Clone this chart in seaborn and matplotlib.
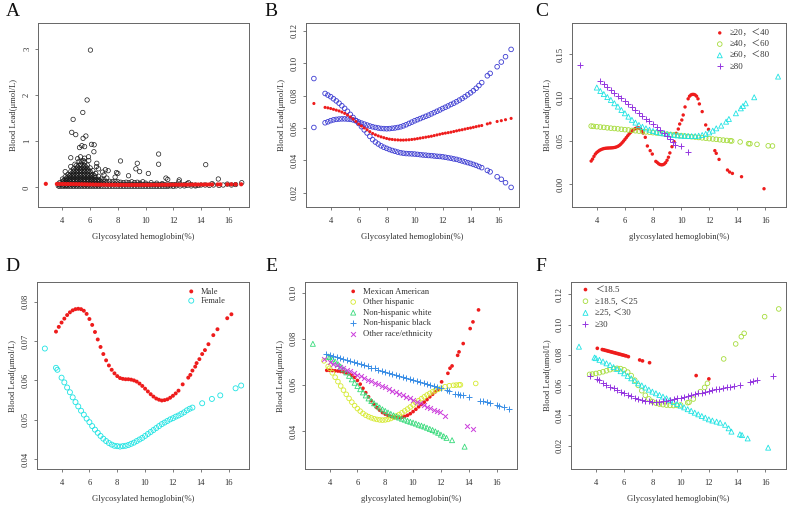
"""
Blood lead vs glycosylated hemoglobin - six panel smooth curve figure
"""

import numpy as np
import pandas as pd
import matplotlib
matplotlib.use('Agg')
import matplotlib.pyplot as plt
import seaborn as sns
import warnings
warnings.filterwarnings('ignore')

sns.set_style('ticks')
plt.rcParams['font.family'] = ['Liberation Serif', 'Noto Sans CJK SC', 'DejaVu Sans']

# ==================================================================================
# DATA
# ==================================================================================

# Panel A - raw scatter (dense core, band above HbA1c 8, outliers)
a_core = [
    (3.7, 0.03), (3.7, 0.07),
    (3.8, 0.02), (3.8, 0.06), (3.8, 0.10),
    (4.0, 0.02), (4.0, 0.07), (4.0, 0.12), (4.0, 0.18),
    (4.1, 0.04), (4.1, 0.10), (4.1, 0.15),
    (4.2, 0.02), (4.2, 0.07), (4.2, 0.12), (4.2, 0.17), (4.2, 0.23),
    (4.3, 0.04), (4.3, 0.10), (4.3, 0.15), (4.3, 0.20),
    (4.4, 0.02), (4.4, 0.07), (4.4, 0.12), (4.4, 0.17), (4.4, 0.22), (4.4, 0.28),
    (4.5, 0.05), (4.5, 0.15), (4.5, 0.25),
    (4.6, 0.02), (4.6, 0.07), (4.6, 0.12), (4.6, 0.17), (4.6, 0.22), (4.6, 0.28), (4.6, 0.34), (4.6, 0.45),
    (4.7, 0.05), (4.7, 0.15), (4.7, 0.25), (4.7, 0.31),
    (4.8, 0.02), (4.8, 0.07), (4.8, 0.12), (4.8, 0.17), (4.8, 0.22), (4.8, 0.28), (4.8, 0.34), (4.8, 0.40),
    (4.9, 0.05), (4.9, 0.15), (4.9, 0.25), (4.9, 0.37),
    (5.0, 0.02), (5.0, 0.07), (5.0, 0.12), (5.0, 0.17), (5.0, 0.22), (5.0, 0.28), (5.0, 0.34), (5.0, 0.40), (5.0, 0.47),
    (5.1, 0.05), (5.1, 0.15), (5.1, 0.25), (5.1, 0.37), (5.1, 0.44),
    (5.2, 0.02), (5.2, 0.07), (5.2, 0.12), (5.2, 0.17), (5.2, 0.22), (5.2, 0.28), (5.2, 0.34), (5.2, 0.40), (5.2, 0.47), (5.2, 0.56),
    (5.3, 0.05), (5.3, 0.15), (5.3, 0.25), (5.3, 0.37), (5.3, 0.50),
    (5.4, 0.02), (5.4, 0.07), (5.4, 0.12), (5.4, 0.17), (5.4, 0.22), (5.4, 0.28), (5.4, 0.34), (5.4, 0.40), (5.4, 0.47), (5.4, 0.55),
    (5.5, 0.05), (5.5, 0.15), (5.5, 0.25), (5.5, 0.37), (5.5, 0.44), (5.5, 0.58),
    (5.6, 0.02), (5.6, 0.07), (5.6, 0.12), (5.6, 0.17), (5.6, 0.22), (5.6, 0.28), (5.6, 0.34), (5.6, 0.40), (5.6, 0.47), (5.6, 0.55), (5.6, 0.63),
    (5.7, 0.05), (5.7, 0.15), (5.7, 0.25), (5.7, 0.37), (5.7, 0.44),
    (5.8, 0.02), (5.8, 0.07), (5.8, 0.12), (5.8, 0.17), (5.8, 0.22), (5.8, 0.28), (5.8, 0.34), (5.8, 0.40), (5.8, 0.48),
    (5.9, 0.05), (5.9, 0.15), (5.9, 0.25), (5.9, 0.37),
    (6.0, 0.02), (6.0, 0.07), (6.0, 0.12), (6.0, 0.17), (6.0, 0.22), (6.0, 0.28), (6.0, 0.34), (6.0, 0.42),
    (6.1, 0.05), (6.1, 0.15), (6.1, 0.25),
    (6.2, 0.02), (6.2, 0.07), (6.2, 0.12), (6.2, 0.17), (6.2, 0.22), (6.2, 0.28), (6.2, 0.36),
    (6.3, 0.05), (6.3, 0.15), (6.3, 0.25),
    (6.4, 0.02), (6.4, 0.07), (6.4, 0.12), (6.4, 0.17), (6.4, 0.22), (6.4, 0.30),
    (6.5, 0.05), (6.5, 0.15),
    (6.6, 0.02), (6.6, 0.07), (6.6, 0.12), (6.6, 0.17), (6.6, 0.24),
    (6.7, 0.05), (6.7, 0.14),
    (6.8, 0.02), (6.8, 0.07), (6.8, 0.12), (6.8, 0.18),
    (7.0, 0.02), (7.0, 0.07), (7.0, 0.12), (7.0, 0.17), (7.0, 0.27),
    (7.2, 0.02), (7.2, 0.07), (7.2, 0.12), (7.2, 0.20),
    (7.4, 0.02), (7.4, 0.07), (7.4, 0.13),
    (7.6, 0.02), (7.6, 0.07), (7.6, 0.12),
    (7.8, 0.02), (7.8, 0.07), (7.8, 0.13), (7.8, 0.22),
    (8.0, 0.02), (8.0, 0.07), (8.0, 0.12),
]
a_band = [
    (8.2, 0.02), (8.2, 0.06), (8.2, 0.11), (8.4, 0.02), (8.4, 0.06), (8.4, 0.10),
    (8.6, 0.02), (8.6, 0.06), (8.6, 0.11), (8.8, 0.02), (8.8, 0.06), (8.8, 0.10),
    (9.0, 0.02), (9.0, 0.06), (9.0, 0.12), (9.2, 0.02), (9.2, 0.06), (9.2, 0.10),
    (9.4, 0.02), (9.4, 0.06), (9.4, 0.11), (9.6, 0.02), (9.6, 0.06), (9.6, 0.09),
    (9.8, 0.02), (9.8, 0.06), (9.8, 0.12), (10.0, 0.02), (10.0, 0.06), (10.0, 0.09),
    (10.2, 0.02), (10.2, 0.06), (10.4, 0.02), (10.4, 0.06), (10.4, 0.10),
    (10.6, 0.02), (10.6, 0.06), (10.8, 0.02), (10.8, 0.06), (10.8, 0.09),
    (11.0, 0.02), (11.0, 0.06), (11.2, 0.02), (11.2, 0.06), (11.2, 0.08),
    (11.4, 0.02), (11.4, 0.06), (11.6, 0.02), (11.6, 0.05), (11.8, 0.03), (11.8, 0.06),
    (12.0, 0.02), (12.0, 0.06), (12.2, 0.03), (12.2, 0.06), (12.5, 0.03), (12.5, 0.07),
    (12.8, 0.03), (12.8, 0.06), (13.0, 0.04), (13.0, 0.08), (13.3, 0.03), (13.3, 0.06),
    (13.6, 0.03), (13.6, 0.05), (13.8, 0.04), (14.0, 0.05), (14.3, 0.05), (14.6, 0.04),
    (14.9, 0.05), (15.3, 0.04), (15.6, 0.05), (16.2, 0.05), (16.5, 0.06),
]
a_outliers = [
    (6.02, 2.97), (5.78, 1.89), (5.47, 1.62), (4.77, 1.47), (4.67, 1.19), (4.96, 1.14),
    (5.69, 1.11), (5.49, 1.06), (5.40, 0.90), (5.23, 0.86), (6.10, 0.93), (6.29, 0.92),
    (6.27, 0.77), (5.88, 0.66), (4.60, 0.64), (5.60, 0.88), (8.19, 0.57), (10.94, 0.72),
    (10.94, 0.50), (9.40, 0.52), (9.30, 0.40), (9.57, 0.34), (10.20, 0.30), (14.34, 0.49),
    (15.25, 0.18), (12.43, 0.16), (11.47, 0.20), (8.77, 0.25), (16.94, 0.10), (6.48, 0.52),
    (6.46, 0.45), (4.20, 0.34), (7.30, 0.36), (7.90, 0.32), (8.00, 0.30), (7.10, 0.38),
    (6.90, 0.33), (5.10, 0.62), (5.30, 0.66), (5.90, 0.58), (4.90, 0.50), (6.60, 0.40),
    (11.60, 0.17), (13.10, 0.10), (12.40, 0.12), (14.80, 0.08), (15.90, 0.07),
]

# Panel B - fitted curve and its two bands (same HbA1c values)
b_x = [2.8, 3.6, 3.8, 4.0, 4.2, 4.4, 4.6, 4.8, 5.0, 5.2, 5.4, 5.6, 5.8, 6.0, 6.2, 6.4, 6.6,
       6.8, 7.0, 7.2, 7.4, 7.6, 7.8, 8.0, 8.2, 8.4, 8.6, 8.8, 9.0, 9.2, 9.4, 9.6, 9.8, 10.0,
       10.2, 10.4, 10.6, 10.8, 11.0, 11.2, 11.4, 11.6, 11.8, 12.0, 12.2, 12.4, 12.6, 12.8,
       13.0, 13.2, 13.4, 13.6, 13.8, 14.0, 14.2, 14.4, 14.6, 14.8, 15.2, 15.4, 15.9, 16.2,
       16.5, 16.9]
b_fit = [0.0751, 0.0727, 0.0724, 0.0720, 0.0715, 0.0710, 0.0705, 0.0698, 0.0690, 0.0680,
         0.0668, 0.0655, 0.0640, 0.0624, 0.0612, 0.0600, 0.0589, 0.0577, 0.0566, 0.0558,
         0.0551, 0.0545, 0.0540, 0.0535, 0.0531, 0.0529, 0.0527, 0.0526, 0.0525, 0.0525,
         0.0526, 0.0527, 0.0529, 0.0531, 0.0534, 0.0537, 0.0540, 0.0543, 0.0546, 0.0549,
         0.0553, 0.0557, 0.0561, 0.0565, 0.0568, 0.0571, 0.0574, 0.0578, 0.0582, 0.0586,
         0.0589, 0.0593, 0.0597, 0.0600, 0.0604, 0.0608, 0.0612, 0.0615, 0.0625, 0.0630,
         0.0640, 0.0645, 0.0651, 0.0659]
b_band1 = [0.0905, 0.0813, 0.0803, 0.0793, 0.0780, 0.0767, 0.0753, 0.0737, 0.0721, 0.0703,
           0.0684, 0.0665, 0.0646, 0.0628, 0.0608, 0.0588, 0.0569, 0.0548, 0.0528, 0.0513,
           0.0501, 0.0490, 0.0481, 0.0474, 0.0467, 0.0461, 0.0456, 0.0451, 0.0447, 0.0444,
           0.0442, 0.0441, 0.0440, 0.0439, 0.0437, 0.0435, 0.0433, 0.0432, 0.0430, 0.0429,
           0.0427, 0.0425, 0.0424, 0.0422, 0.0419, 0.0416, 0.0413, 0.0409, 0.0406, 0.0401,
           0.0396, 0.0391, 0.0386, 0.0381, 0.0375, 0.0369, 0.0362, 0.0355, 0.0338, 0.0329,
           0.0299, 0.0283, 0.0262, 0.0233]
b_band2 = [0.0603, 0.0632, 0.0638, 0.0645, 0.0650, 0.0653, 0.0655, 0.0656, 0.0656, 0.0655,
           0.0653, 0.0650, 0.0644, 0.0637, 0.0630, 0.0624, 0.0618, 0.0612, 0.0607, 0.0603,
           0.0600, 0.0597, 0.0596, 0.0595, 0.0596, 0.0598, 0.0600, 0.0603, 0.0607, 0.0613,
           0.0620, 0.0628, 0.0636, 0.0644, 0.0651, 0.0658, 0.0665, 0.0672, 0.0679, 0.0687,
           0.0695, 0.0703, 0.0711, 0.0720, 0.0728, 0.0736, 0.0745, 0.0753, 0.0762, 0.0772,
           0.0782, 0.0793, 0.0805, 0.0817, 0.0830, 0.0845, 0.0862, 0.0880, 0.0922, 0.0937,
           0.0978, 0.1007, 0.1040, 0.1085]

# Panel C - age groups
c_labels = ['≥20，＜40', '≥40，＜60', '≥60，＜80', '≥80']
c1_x = [3.6, 3.7, 3.8, 3.9, 4.0, 4.1, 4.2, 4.3, 4.4, 4.5, 4.6, 4.7, 4.8, 4.9, 5.0, 5.1, 5.2,
        5.3, 5.4, 5.5, 5.6, 5.7, 5.8, 5.9, 6.0, 6.1, 6.2, 6.3, 6.4, 6.5, 6.6, 6.7, 6.8, 6.9,
        7.0, 7.1, 7.2, 7.3, 7.45, 7.6, 7.8, 7.95, 8.2, 8.3, 8.4, 8.5, 8.6, 8.7, 8.8, 8.9, 9.0,
        9.1, 9.2, 9.35, 9.5, 9.65, 9.8, 9.9, 10.05, 10.15, 10.28, 10.5, 10.6, 10.7, 10.8, 10.9,
        11.0, 11.1, 11.2, 11.3, 11.5, 11.75, 11.95, 12.4, 12.5, 12.7, 13.3, 13.45, 13.65, 14.3,
        15.9]
c1_y = [0.0266, 0.0289, 0.0320, 0.0347, 0.0365, 0.0378, 0.0390, 0.0398, 0.0405, 0.0410,
        0.0413, 0.0415, 0.0416, 0.0417, 0.0418, 0.0419, 0.0421, 0.0424, 0.0429, 0.0436,
        0.0446, 0.0460, 0.0477, 0.0496, 0.0516, 0.0537, 0.0558, 0.0578, 0.0596, 0.0612,
        0.0626, 0.0637, 0.0645, 0.0650, 0.0648, 0.0638, 0.0618, 0.0590, 0.0540, 0.0440,
        0.0386, 0.0347, 0.0262, 0.0250, 0.0235, 0.0226, 0.0222, 0.0224, 0.0232, 0.0248,
        0.0275, 0.0310, 0.0360, 0.0432, 0.0490, 0.0586, 0.0636, 0.0694, 0.0740, 0.0798,
        0.0891, 0.0985, 0.1015, 0.1030, 0.1036, 0.1036, 0.1030, 0.1015, 0.0985, 0.0926,
        0.0837, 0.0683, 0.0632, 0.0386, 0.0355, 0.0285, 0.0162, 0.0139, 0.0123, 0.0085,
        -0.0054]
c2_x = [3.6, 3.75, 4.0, 4.25, 4.5, 4.75, 5.0, 5.25, 5.5, 5.75, 6.0, 6.25, 6.5, 6.75, 7.0,
        7.25, 7.5, 7.75, 8.0, 8.25, 8.5, 8.75, 9.0, 9.25, 9.5, 9.75, 10.0, 10.25, 10.5, 10.75,
        11.0, 11.25, 11.5, 11.75, 12.0, 12.25, 12.5, 12.75, 13.0, 13.25, 13.5, 13.6, 14.2,
        14.8, 14.9, 15.4, 16.2, 16.5]
c2_y = [0.0670, 0.0667, 0.0663, 0.0659, 0.0655, 0.0650, 0.0646, 0.0642, 0.0638, 0.0633,
        0.0629, 0.0625, 0.0620, 0.0616, 0.0612, 0.0607, 0.0603, 0.0599, 0.0594, 0.0590,
        0.0586, 0.0582, 0.0577, 0.0573, 0.0569, 0.0564, 0.0560, 0.0556, 0.0551, 0.0547,
        0.0543, 0.0538, 0.0534, 0.0530, 0.0525, 0.0521, 0.0517, 0.0512, 0.0508, 0.0504,
        0.0500, 0.0498, 0.0487, 0.0467, 0.0466, 0.0459, 0.0442, 0.0440]
c3_x = [4.0, 4.25, 4.5, 4.75, 5.0, 5.25, 5.5, 5.75, 6.0, 6.25, 6.5, 6.75, 7.0, 7.25, 7.5,
        7.75, 8.0, 8.25, 8.5, 8.75, 9.0, 9.25, 9.5, 9.75, 10.0, 10.25, 10.5, 10.75, 11.0,
        11.25, 11.5, 11.75, 12.0, 12.25, 12.5, 12.85, 13.2, 13.4, 13.9, 14.25, 14.4, 14.6,
        15.2, 16.9]
c3_y = [0.1115, 0.1075, 0.1040, 0.1005, 0.0972, 0.0934, 0.0895, 0.0856, 0.0818, 0.0779,
        0.0742, 0.0710, 0.0683, 0.0662, 0.0644, 0.0628, 0.0614, 0.0603, 0.0594, 0.0586,
        0.0578, 0.0572, 0.0567, 0.0562, 0.0559, 0.0557, 0.0555, 0.0554, 0.0555, 0.0559,
        0.0567, 0.0580, 0.0597, 0.0617, 0.0644, 0.0675, 0.0721, 0.0752, 0.0818, 0.0875,
        0.0902, 0.0933, 0.1003, 0.1242]
c4_x = [2.8, 4.25, 4.5, 4.75, 5.0, 5.25, 5.5, 5.75, 6.0, 6.25, 6.5, 6.75, 7.0, 7.25, 7.5,
        7.75, 8.0, 8.25, 8.5, 8.75, 9.0, 9.2, 9.4, 9.55, 10.0, 10.5]
c4_y = [0.1377, 0.1190, 0.1157, 0.1124, 0.1090, 0.1057, 0.1023, 0.0990, 0.0956, 0.0923,
        0.0890, 0.0857, 0.0823, 0.0790, 0.0757, 0.0724, 0.0691, 0.0658, 0.0625, 0.0592,
        0.0555, 0.0525, 0.0490, 0.0455, 0.0440, 0.0366]

# Panel D - sex
d_male_x = [3.6, 3.8, 4.0, 4.2, 4.4, 4.6, 4.8, 5.0, 5.2, 5.4, 5.6, 5.8, 6.0, 6.2, 6.4, 6.6,
            6.8, 7.0, 7.2, 7.4, 7.6, 7.8, 8.0, 8.2, 8.4, 8.6, 8.8, 9.0, 9.2, 9.4, 9.6, 9.8,
            10.0, 10.2, 10.4, 10.6, 10.8, 11.0, 11.2, 11.4, 11.6, 11.8, 12.0, 12.2, 12.4,
            12.7, 13.1, 13.25, 13.4, 13.6, 13.7, 13.9, 14.1, 14.3, 14.55, 14.9, 15.2, 15.9,
            16.2]
d_male_y = [0.0724, 0.0736, 0.0747, 0.0757, 0.0766, 0.0773, 0.0778, 0.0781, 0.0782, 0.0781,
            0.0777, 0.0769, 0.0756, 0.0741, 0.0723, 0.0704, 0.0685, 0.0667, 0.0651, 0.0638,
            0.0627, 0.0618, 0.0611, 0.0606, 0.0604, 0.0603, 0.0603, 0.0602, 0.0600, 0.0597,
            0.0592, 0.0586, 0.0579, 0.0572, 0.0565, 0.0559, 0.0554, 0.0551, 0.0549, 0.0550,
            0.0552, 0.0556, 0.0561, 0.0567, 0.0574, 0.0590, 0.0607, 0.0614, 0.0625, 0.0635,
            0.0644, 0.0654, 0.0667, 0.0677, 0.0692, 0.0715, 0.0730, 0.0758, 0.0768]
d_female_x = [2.8, 3.6, 3.7, 4.0, 4.2, 4.4, 4.6, 4.8, 5.0, 5.2, 5.4, 5.6, 5.8, 6.0, 6.2, 6.4,
              6.6, 6.8, 7.0, 7.2, 7.4, 7.6, 7.8, 8.0, 8.2, 8.4, 8.6, 8.8, 9.0, 9.2, 9.4, 9.6,
              9.8, 10.0, 10.2, 10.4, 10.6, 10.8, 11.0, 11.2, 11.4, 11.6, 11.8, 12.0, 12.2,
              12.4, 12.6, 12.8, 13.0, 13.2, 13.4, 14.1, 14.8, 15.4, 16.5, 16.9]
d_female_y = [0.0681, 0.0632, 0.0627, 0.0607, 0.0595, 0.0582, 0.0570, 0.0557, 0.0545, 0.0534,
              0.0523, 0.0513, 0.0503, 0.0494, 0.0484, 0.0475, 0.0467, 0.0459, 0.0452, 0.0446,
              0.0441, 0.0437, 0.0434, 0.0433, 0.0432, 0.0433, 0.0434, 0.0436, 0.0439, 0.0442,
              0.0446, 0.0450, 0.0454, 0.0459, 0.0464, 0.0469, 0.0474, 0.0479, 0.0484, 0.0489,
              0.0493, 0.0497, 0.0501, 0.0504, 0.0508, 0.0511, 0.0515, 0.0519, 0.0524, 0.0528,
              0.0531, 0.0542, 0.0553, 0.0562, 0.0580, 0.0587]

# Panel E - race/ethnicity
e_labels = ['Mexican American', 'Other hispanic', 'Non-hispanic white',
            'Non-hispanic black', 'Other race/ethnicity']
e1_x = [3.8, 4.0, 4.2, 4.4, 4.6, 4.8, 5.0, 5.2, 5.4, 5.6, 5.8, 6.0, 6.2, 6.4, 6.6, 6.8, 7.0,
        7.2, 7.4, 7.6, 7.8, 8.0, 8.2, 8.4, 8.6, 8.8, 9.0, 9.2, 9.4, 9.6, 9.8, 10.0, 10.2, 10.4,
        10.6, 10.8, 11.0, 11.2, 11.4, 11.6, 11.8, 12.05, 12.5, 12.65, 12.8, 13.2, 13.3, 13.6,
        14.1, 14.3, 14.7]
e1_y = [0.0663, 0.0663, 0.0662, 0.0661, 0.0660, 0.0658, 0.0656, 0.0652, 0.0648, 0.0641,
        0.0632, 0.0619, 0.0603, 0.0585, 0.0566, 0.0548, 0.0531, 0.0515, 0.0501, 0.0490,
        0.0480, 0.0473, 0.0467, 0.0463, 0.0460, 0.0458, 0.0458, 0.0460, 0.0463, 0.0468,
        0.0475, 0.0484, 0.0494, 0.0505, 0.0515, 0.0525, 0.0536, 0.0548, 0.0559, 0.0570,
        0.0580, 0.0613, 0.0650, 0.0672, 0.0682, 0.0728, 0.0743, 0.0779, 0.0844, 0.0873,
        0.0925]
e2_x = [3.6, 3.9, 4.0, 4.2, 4.4, 4.6, 4.8, 5.0, 5.2, 5.4, 5.6, 5.8, 6.0, 6.2, 6.4, 6.6, 6.8,
        7.0, 7.2, 7.4, 7.6, 7.8, 8.0, 8.2, 8.4, 8.6, 8.8, 9.0, 9.2, 9.4, 9.6, 9.8, 10.0, 10.2,
        10.4, 10.6, 10.8, 11.0, 11.2, 11.4, 11.6, 11.8, 12.0, 12.3, 12.6, 12.9, 13.1, 13.3,
        13.4, 14.5]
e2_y = [0.0704, 0.0680, 0.0672, 0.0652, 0.0633, 0.0614, 0.0595, 0.0577, 0.0559, 0.0541,
        0.0525, 0.0510, 0.0497, 0.0486, 0.0476, 0.0468, 0.0462, 0.0457, 0.0453, 0.0450,
        0.0448, 0.0447, 0.0448, 0.0450, 0.0454, 0.0459, 0.0465, 0.0471, 0.0479, 0.0487,
        0.0495, 0.0504, 0.0513, 0.0522, 0.0531, 0.0540, 0.0548, 0.0556, 0.0563, 0.0570,
        0.0576, 0.0581, 0.0585, 0.0592, 0.0596, 0.0598, 0.0599, 0.0600, 0.0600, 0.0606]
e3_x = [2.8, 3.9, 4.0, 4.2, 4.4, 4.6, 4.8, 5.0, 5.2, 5.4, 5.6, 5.8, 6.0, 6.2, 6.4, 6.6, 6.8,
        7.0, 7.2, 7.4, 7.6, 7.8, 8.0, 8.2, 8.4, 8.6, 8.8, 9.0, 9.2, 9.4, 9.6, 9.8, 10.0, 10.2,
        10.4, 10.6, 10.8, 11.0, 11.2, 11.4, 11.6, 11.8, 12.0, 12.2, 12.4, 12.8, 13.7]
e3_y = [0.0778, 0.0723, 0.0720, 0.0711, 0.0701, 0.0690, 0.0679, 0.0667, 0.0654, 0.0639,
        0.0624, 0.0609, 0.0595, 0.0581, 0.0567, 0.0554, 0.0541, 0.0530, 0.0520, 0.0511,
        0.0502, 0.0494, 0.0487, 0.0480, 0.0474, 0.0468, 0.0463, 0.0458, 0.0453, 0.0449,
        0.0444, 0.0440, 0.0436, 0.0432, 0.0427, 0.0423, 0.0419, 0.0414, 0.0409, 0.0404,
        0.0398, 0.0392, 0.0384, 0.0377, 0.0370, 0.0360, 0.0332]
e4_x = [3.75, 4.0, 4.25, 4.5, 4.75, 5.0, 5.25, 5.5, 5.75, 6.0, 6.25, 6.5, 6.75, 7.0, 7.25,
        7.5, 7.75, 8.0, 8.25, 8.5, 8.75, 9.0, 9.25, 9.5, 9.75, 10.0, 10.25, 10.5, 10.75, 11.0,
        11.25, 11.5, 11.75, 12.0, 12.4, 12.6, 13.0, 13.2, 13.4, 13.6, 14.0, 14.8, 15.0, 15.3,
        15.5, 16.0, 16.2, 16.5, 16.9]
e4_y = [0.0734, 0.0729, 0.0725, 0.0720, 0.0716, 0.0711, 0.0707, 0.0702, 0.0698, 0.0693,
        0.0689, 0.0684, 0.0680, 0.0675, 0.0671, 0.0666, 0.0662, 0.0657, 0.0653, 0.0648,
        0.0644, 0.0639, 0.0635, 0.0630, 0.0626, 0.0621, 0.0617, 0.0612, 0.0608, 0.0603,
        0.0599, 0.0594, 0.0590, 0.0585, 0.0576, 0.0572, 0.0562, 0.0560, 0.0557, 0.0554,
        0.0546, 0.0532, 0.0530, 0.0524, 0.0521, 0.0512, 0.0508, 0.0502, 0.0494]
e5_x = [3.6, 4.0, 4.25, 4.5, 4.75, 5.0, 5.25, 5.5, 5.75, 6.0, 6.25, 6.5, 6.75, 7.0, 7.25,
        7.5, 7.75, 8.0, 8.25, 8.5, 8.75, 9.0, 9.25, 9.5, 9.75, 10.0, 10.25, 10.5, 10.75, 11.0,
        11.25, 11.5, 11.75, 11.9, 12.3, 13.9, 14.3]
e5_y = [0.0711, 0.0699, 0.0692, 0.0685, 0.0678, 0.0671, 0.0664, 0.0658, 0.0651, 0.0644,
        0.0637, 0.0630, 0.0623, 0.0616, 0.0609, 0.0603, 0.0596, 0.0589, 0.0582, 0.0575,
        0.0568, 0.0561, 0.0554, 0.0548, 0.0541, 0.0534, 0.0527, 0.0520, 0.0513, 0.0506,
        0.0499, 0.0493, 0.0486, 0.0482, 0.0465, 0.0422, 0.0407]

# Panel F - BMI groups
f_labels = ['＜18.5', '≥18.5, ＜25', '≥25, ＜30', '≥30']
f1_x = [4.1, 4.45, 4.55, 4.65, 4.75, 4.85, 4.95, 5.05, 5.15, 5.25, 5.35, 5.45, 5.55, 5.65,
        5.75, 5.85, 5.95, 6.05, 6.15, 6.3, 7.1, 7.3, 7.8, 11.1, 12.0]
f1_y = [0.0843, 0.0835, 0.0833, 0.0830, 0.0828, 0.0825, 0.0823, 0.0820, 0.0818, 0.0815,
        0.0813, 0.0810, 0.0808, 0.0805, 0.0803, 0.0800, 0.0798, 0.0795, 0.0793, 0.0788,
        0.0766, 0.0760, 0.0748, 0.0663, 0.0641]
f2_x = [3.55, 3.75, 4.0, 4.25, 4.5, 4.75, 5.0, 5.25, 5.5, 5.75, 6.0, 6.25, 6.5, 6.75, 7.0,
        7.25, 7.5, 7.75, 8.0, 8.25, 8.5, 8.75, 9.0, 9.25, 9.5, 9.75, 10.0, 10.5, 10.6, 10.9,
        11.4, 11.7, 11.9, 13.05, 13.9, 14.3, 14.5, 15.95, 16.95]
f2_y = [0.0671, 0.0673, 0.0677, 0.0682, 0.0688, 0.0695, 0.0702, 0.0708, 0.0711, 0.0709,
        0.0701, 0.0686, 0.0663, 0.0633, 0.0598, 0.0563, 0.0533, 0.0509, 0.0492, 0.0481,
        0.0475, 0.0471, 0.0468, 0.0466, 0.0465, 0.0466, 0.0469, 0.0484, 0.0487, 0.0508,
        0.0557, 0.0585, 0.0612, 0.0773, 0.0872, 0.0920, 0.0942, 0.1052, 0.1103]
f3_x = [2.8, 3.9, 4.0, 4.25, 4.5, 4.75, 5.0, 5.25, 5.5, 5.75, 6.0, 6.25, 6.5, 6.75, 7.0, 7.25,
        7.5, 7.75, 8.0, 8.25, 8.5, 8.75, 9.0, 9.25, 9.5, 9.75, 10.0, 10.25, 10.5, 10.75, 11.0,
        11.25, 11.5, 11.75, 12.0, 12.25, 12.55, 12.8, 13.15, 13.4, 13.6, 14.2, 14.35, 14.75,
        16.2]
f3_y = [0.0854, 0.0782, 0.0778, 0.0767, 0.0756, 0.0744, 0.0733, 0.0719, 0.0706, 0.0692,
        0.0678, 0.0661, 0.0645, 0.0628, 0.0612, 0.0598, 0.0584, 0.0570, 0.0557, 0.0546,
        0.0535, 0.0524, 0.0513, 0.0501, 0.0489, 0.0476, 0.0464, 0.0453, 0.0441, 0.0430,
        0.0418, 0.0407, 0.0396, 0.0385, 0.0374, 0.0366, 0.0359, 0.0352, 0.0338, 0.0315,
        0.0293, 0.0275, 0.0270, 0.0248, 0.0187]
f4_x = [3.6, 4.1, 4.25, 4.5, 4.75, 5.0, 5.25, 5.5, 5.75, 6.0, 6.25, 6.5, 6.75, 7.0, 7.25, 7.5,
        7.75, 8.0, 8.25, 8.5, 8.75, 9.0, 9.25, 9.5, 9.75, 10.0, 10.25, 10.5, 10.75, 11.0,
        11.25, 11.5, 11.75, 12.0, 12.25, 12.5, 12.75, 13.0, 13.25, 13.5, 13.75, 14.2, 14.9,
        15.15, 15.4, 16.55]
f4_y = [0.0660, 0.0640, 0.0631, 0.0617, 0.0603, 0.0590, 0.0578, 0.0567, 0.0556, 0.0546,
        0.0536, 0.0526, 0.0516, 0.0508, 0.0502, 0.0497, 0.0493, 0.0491, 0.0490, 0.0491,
        0.0493, 0.0497, 0.0502, 0.0507, 0.0512, 0.0517, 0.0522, 0.0528, 0.0533, 0.0539,
        0.0545, 0.0551, 0.0557, 0.0563, 0.0567, 0.0572, 0.0577, 0.0582, 0.0586, 0.0590,
        0.0593, 0.0600, 0.0622, 0.0630, 0.0636, 0.0660]

x_ticks = [4, 6, 8, 10, 12, 14, 16]

# ==================================================================================
# STYLE
# ==================================================================================
RED = '#ee1c1c'
BLUE_B = '#3c3cd2'
YGREEN = '#a6dc3c'
CYAN = '#1ee3e3'
PURPLE = '#9436e0'
E_YELLOW = '#d6ea30'
E_GREEN = '#36da7a'
E_BLUE = '#3a8ee6'
E_MAGENTA = '#cc3ddc'
FRAME = '#666666'
TEXT = '#333333'


def pts(ax, x, y, color, marker='o', s=8, hollow=False, lw=0.6, label=None):
    if hollow:
        sns.scatterplot(x=x, y=y, ax=ax, marker=marker, s=s, color=color, facecolor='none',
                        edgecolor=color, linewidth=lw, label=label, legend=False, zorder=3)
    elif marker in ('+', 'x'):
        sns.scatterplot(x=x, y=y, ax=ax, marker=marker, s=s, color=color, linewidth=lw,
                        label=label, legend=False, zorder=3)
    else:
        sns.scatterplot(x=x, y=y, ax=ax, marker=marker, s=s, color=color, edgecolor='none',
                        linewidth=0, label=label, legend=False, zorder=3)


def frame(ax, ylim, yticks, yfmt, xlabel, ylabel):
    ax.set_xlim(2.236, 17.464)
    ax.set_ylim(*ylim)
    ax.set_xticks(x_ticks, [str(t) for t in x_ticks])
    ax.set_yticks(yticks, [yfmt % t for t in yticks], rotation=90, va='center')
    for sp in ax.spines.values():
        sp.set_visible(True)
        sp.set_color(FRAME)
        sp.set_linewidth(0.7)
    ax.tick_params(axis='both', direction='out', length=2.5, width=0.6, color=FRAME,
                   labelsize=6.2, labelcolor=TEXT)
    ax.tick_params(axis='x', pad=4.5)
    ax.tick_params(axis='y', pad=2.5)
    ax.set_xlabel(xlabel, fontsize=6.2, color=TEXT)
    ax.set_ylabel(ylabel, fontsize=6.2, color=TEXT)
    h = ax.get_position().height * 507
    w = ax.get_position().width * 789
    ax.xaxis.set_label_coords(0.5, -30 / h)
    ax.xaxis.label.set_va('center')
    ax.yaxis.set_label_coords(-24 / w, 0.5)
    ax.yaxis.label.set_va('center')


fig = plt.figure(figsize=(7.89, 5.07), dpi=100)
W, H = 789, 507


def panel(l, t, r, b):
    return fig.add_axes([l / W, (H - b) / H, (r - l) / W, (b - t) / H])


ax_a = panel(38, 23, 249, 207)
ax_b = panel(306, 23, 519, 207)
ax_c = panel(572, 23, 786, 207)
ax_d = panel(37, 282, 249, 469)
ax_e = panel(305, 282, 517, 469)
ax_f = panel(571, 282, 786, 469)

XL = 'Glycosylated hemoglobin(%)'
XL_low = 'glycosylated hemoglobin(%)'
YL = 'Blood Lead(μmol/L)'

# A
raw = pd.DataFrame(a_core + a_band + a_outliers, columns=['hba1c', 'lead'])
pts(ax_a, raw['hba1c'], raw['lead'], '#1a1a1a', s=10, hollow=True, lw=0.5)
pts(ax_a, b_x, b_fit, RED, s=9)
frame(ax_a, (-0.426, 3.556), [0, 1, 2, 3], '%d', XL, YL)

# B
pts(ax_b, b_x, b_band1, BLUE_B, s=11, hollow=True, lw=0.6)
pts(ax_b, b_x, b_band2, BLUE_B, s=11, hollow=True, lw=0.6)
pts(ax_b, b_x, b_fit, RED, s=5)
frame(ax_b, (0.0112, 0.1248), [0.02, 0.04, 0.06, 0.08, 0.10, 0.12], '%.2f', XL, YL)

# C
pts(ax_c, c1_x, c1_y, RED, s=6, label=c_labels[0])
pts(ax_c, c2_x, c2_y, YGREEN, s=11, hollow=True, lw=0.6, label=c_labels[1])
pts(ax_c, c3_x, c3_y, CYAN, marker='^', s=13, hollow=True, lw=0.6, label=c_labels[2])
pts(ax_c, c4_x, c4_y, PURPLE, marker='+', s=22, lw=0.7, label=c_labels[3])
frame(ax_c, (-0.0265, 0.1861), [0.00, 0.05, 0.10, 0.15], '%.2f', XL_low, YL)
ax_c.legend(loc='upper left', bbox_to_anchor=(0.67, 0.967), frameon=False, fontsize=6.3,
            handlelength=1.0, handletextpad=0.6, labelspacing=0.35, borderpad=0,
            borderaxespad=0, markerscale=1.0, labelcolor=TEXT)

# D
pts(ax_d, d_male_x, d_male_y, RED, s=8, label='Male')
pts(ax_d, d_female_x, d_female_y, CYAN, s=13, hollow=True, lw=0.6, label='Female')
frame(ax_d, (0.0375, 0.0850), [0.04, 0.05, 0.06, 0.07, 0.08], '%.2f', XL, YL)
ax_d.legend(loc='upper left', bbox_to_anchor=(0.708, 0.97), frameon=False, fontsize=6.0,
            handlelength=1.0, handletextpad=0.6, labelspacing=0.15, borderpad=0,
            borderaxespad=0, labelcolor=TEXT)

# E
pts(ax_e, e1_x, e1_y, RED, s=7, label=e_labels[0])
pts(ax_e, e2_x, e2_y, E_YELLOW, s=11, hollow=True, lw=0.6, label=e_labels[1])
pts(ax_e, e3_x, e3_y, E_GREEN, marker='^', s=13, hollow=True, lw=0.6, label=e_labels[2])
pts(ax_e, e4_x, e4_y, E_BLUE, marker='+', s=20, lw=0.7, label=e_labels[3])
pts(ax_e, e5_x, e5_y, E_MAGENTA, marker='x', s=12, lw=0.7, label=e_labels[4])
frame(ax_e, (0.0235, 0.1046), [0.04, 0.06, 0.08, 0.10], '%.2f', XL_low, YL)
ax_e.legend(loc='upper left', bbox_to_anchor=(0.207, 0.97), frameon=False, fontsize=6.2,
            handlelength=1.0, handletextpad=0.6, labelspacing=0.3, borderpad=0,
            borderaxespad=0, labelcolor=TEXT)

# F
pts(ax_f, f1_x, f1_y, RED, s=7, label=f_labels[0])
pts(ax_f, f2_x, f2_y, YGREEN, s=11, hollow=True, lw=0.6, label=f_labels[1])
pts(ax_f, f3_x, f3_y, CYAN, marker='^', s=13, hollow=True, lw=0.6, label=f_labels[2])
pts(ax_f, f4_x, f4_y, PURPLE, marker='+', s=22, lw=0.7, label=f_labels[3])
frame(ax_f, (0.0046, 0.1281), [0.02, 0.04, 0.06, 0.08, 0.10, 0.12], '%.2f', XL,
      'Blood Lead(umol/L)')
ax_f.legend(loc='upper left', bbox_to_anchor=(0.047, 0.98), frameon=False, fontsize=6.3,
            handlelength=1.0, handletextpad=0.6, labelspacing=0.4, borderpad=0,
            borderaxespad=0, labelcolor=TEXT)

# panel letters
for letter, (px, py) in zip('ABCDEF', [(12.5, 11), (271, 11), (541.5, 11),
                                        (12.5, 266.5), (271.5, 266.5), (541, 266.5)]):
    fig.text(px / W, 1 - py / H, letter, fontsize=14, ha='center', va='center', color='#111111')

plt.savefig('out.png', dpi=100)
plt.close()
